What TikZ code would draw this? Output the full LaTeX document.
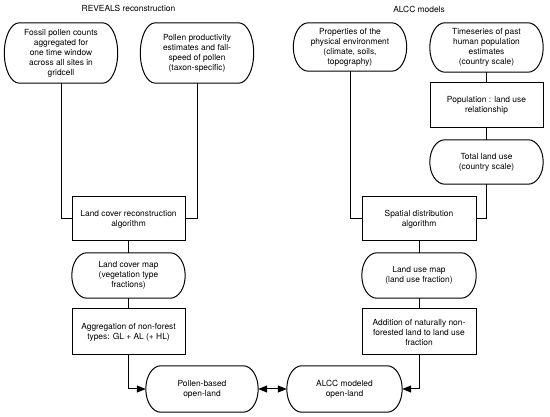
\documentclass[tikz,border=0pt]{standalone}
\usepackage{fontspec}
\setmainfont{TeX Gyre Heros}
\usetikzlibrary{calc,arrows.meta}
\begin{document}
\begin{tikzpicture}[x=1pt,y=-1pt,
 every node/.style={font=\fontsize{8.4}{10}\selectfont, align=center, inner sep=0pt},
 box/.style={draw, line width=1pt, minimum width=113pt, minimum height=#1},
 term/.style={minimum width=113pt, minimum height=#1},
 conn/.style={line width=1pt},
 arr/.style={conn, -{Triangle[length=9pt,width=7pt]}},
 darr/.style={conn, {Triangle[length=9pt,width=7pt]}-{Triangle[length=9pt,width=7pt]}}]
\useasboundingbox (0,0) rectangle (550,417);
\node (t1) at (128.5,8) {REVEALS reconstruction};
\node (t2) at (419,9) {ALCC models};
\node[term=60pt] (fossil) at (61,53) {Fossil pollen counts\\aggregated for\\one time window\\across all sites in\\gridcell};
\node[term=60pt] (pollprod) at (197,53) {Pollen productivity\\estimates and fall-\\speed of pollen\\(taxon-specific)};
\node[term=48pt] (props) at (350,47) {Properties of the\\physical environment\\(climate, soils,\\topography)};
\node[term=49pt] (times) at (486.5,47.5) {Timeseries of past\\human population\\estimates\\(country scale)};
\node[box=45pt] (popul) at (486.5,105.5) {Population : land use\\relationship};
\node[term=44pt] (total) at (486.5,162) {Total land use\\(country scale)};
\node[box=44pt] (lcr) at (128.5,219) {Land cover reconstruction\\algorithm};
\node[box=44pt, minimum width=114pt] (sda) at (419,219) {Spatial distribution\\algorithm};
\node[term=45pt] (lcm) at (128.5,275.5) {Land cover map\\(vegetation type\\fractions)};
\node[term=45pt, minimum width=114pt] (lum) at (419,275.5) {Land use map\\(land use fraction)};
\node[box=46pt] (agg) at (128.5,332) {Aggregation of non-forest\\types: GL + AL (+ HL)};
\node[box=46pt, minimum width=114pt] (add) at (419,332) {Addition of naturally non-\\forested land to land use\\fraction};
\node[term=46pt, minimum width=112pt] (pob) at (202,389) {Pollen-based\\open-land};
\node[term=46pt, minimum width=115pt] (alcc) at (344.5,389) {ALCC modeled\\open-land};
\begin{scope}[x=1pt,y=1pt]
\foreach \nd in {fossil,pollprod,props,times,total,lcm,lum,pob,alcc}{
 \draw[conn] let \p1=(\nd.north west), \p2=(\nd.south east), \n1={(\y1-\y2)/2} in
   (\x1+15pt,\y1) -- (\x2-15pt,\y1) arc[start angle=90,end angle=-90,x radius=15pt,y radius=\n1]
   -- (\x1+15pt,\y2) arc[start angle=270,end angle=90,x radius=15pt,y radius=\n1] -- cycle;
}
\end{scope}
\draw[conn] (fossil.south) |- (lcr.west);
\draw[conn] (pollprod.south) |- (lcr.east);
\draw[conn] (props.south) |- (sda.west);
\draw[conn] (times) -- (popul);
\draw[conn] (popul) -- (total);
\draw[conn] (total.south) |- (sda.east);
\draw[conn] (lcr) -- (lcm);
\draw[conn] (lcm) -- (agg);
\draw[conn] (sda) -- (lum);
\draw[conn] (lum) -- (add);
\draw[arr] (agg.south) |- (pob.west);
\draw[arr] (add.south) |- (alcc.east);
\draw[darr] (pob.east) -- (alcc.west);
\end{tikzpicture}
\end{document}
